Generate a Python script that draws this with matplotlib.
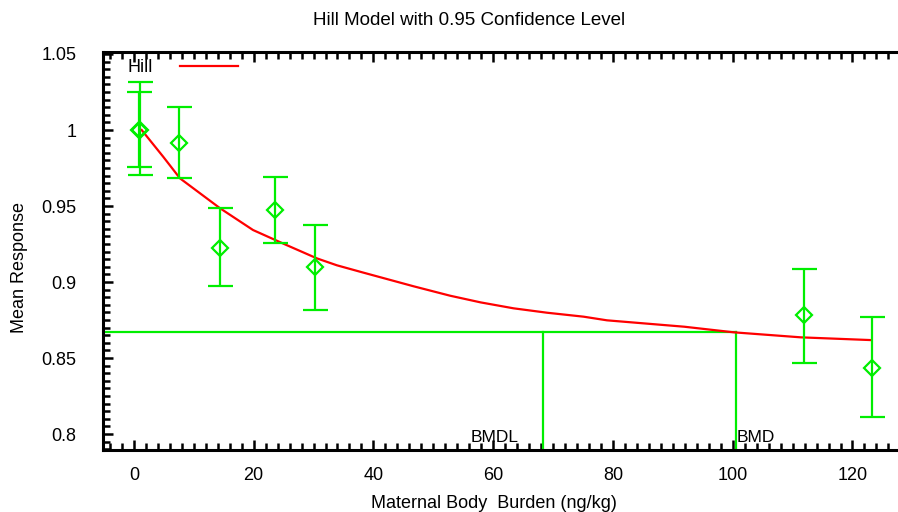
import matplotlib
matplotlib.use("Agg")
import matplotlib.pyplot as plt
from matplotlib.ticker import MultipleLocator, FuncFormatter
from matplotlib.lines import Line2D

plt.rcParams['font.family'] = ['Liberation Sans', 'DejaVu Sans']

# Observed data (dose, mean, lower, upper)
dose = [0.8, 1.0, 7.6, 14.3, 23.6, 30.3, 111.9, 123.2]
mean = [1.0, 1.0, 0.9917, 0.9226, 0.9474, 0.9101, 0.8783, 0.8436]
lower = [0.9757, 0.9707, 0.9682, 0.8974, 0.9254, 0.8816, 0.8465, 0.8114]
upper = [1.0247, 1.0313, 1.0153, 0.9485, 0.9693, 0.9375, 0.9086, 0.877]

# Hill model curve
curve_x = [1.3, 4.9, 7.7, 14.4, 19.9, 25.5, 30.6, 33.9, 38.3, 46.7, 52.8, 57.9,
           63.4, 69.0, 75.1, 79.0, 91.9, 100.2, 111.4, 123.1]
curve_y = [1.0, 0.9824, 0.9682, 0.9485, 0.9342, 0.9243, 0.9155, 0.9110, 0.9062,
           0.8972, 0.8910, 0.8866, 0.8827, 0.8798, 0.8772, 0.8748, 0.8706, 0.8669,
           0.8636, 0.8618]

bmr = 0.8669
bmdl = 68.3
bmd = 100.5

xlim = (-5.2, 127.6)
ylim = (0.7895, 1.0515)

green = '#00ee00'
red = '#ff0000'

fig = plt.figure(figsize=(8.98, 5.12), dpi=100)
ax = fig.add_axes([0.1144, 0.1211, 0.8856, 0.7779])

ax.plot(curve_x, curve_y, color=red, lw=1.6, zorder=3)

yerr = [[m - l for m, l in zip(mean, lower)], [u - m for u, m in zip(upper, mean)]]
ax.errorbar(dose, mean, yerr=yerr, fmt='D', color=green, mfc='none', mec=green,
            ms=8, mew=1.6, elinewidth=1.6, capsize=9, capthick=1.6, zorder=4)

ax.plot([xlim[0], bmd], [bmr, bmr], color=green, lw=1.6, zorder=2)
ax.plot([bmdl, bmdl], [ylim[0], bmr], color=green, lw=1.6, zorder=2)
ax.plot([bmd, bmd], [ylim[0], bmr], color=green, lw=1.6, zorder=2)
ax.text(bmdl - 4.0, ylim[0] + 0.003, 'BMDL', ha='right', va='bottom', fontsize=12.5)
ax.text(bmd + 0.2, ylim[0] + 0.003, 'BMD', ha='left', va='bottom', fontsize=12.5)

ax.set_xlim(*xlim)
ax.set_ylim(*ylim)

ax.xaxis.set_major_locator(MultipleLocator(20))
ax.xaxis.set_minor_locator(MultipleLocator(2))
ax.yaxis.set_major_locator(MultipleLocator(0.05))
ax.yaxis.set_minor_locator(MultipleLocator(0.005))
ax.yaxis.set_major_formatter(FuncFormatter(lambda v, p: ('%g' % round(v, 4))))

ax.tick_params(which='both', direction='in', top=True, right=False, width=1.8,
               labelsize=13)
ax.tick_params(which='major', length=7)
ax.tick_params(which='minor', length=5)
ax.tick_params(axis='x', pad=12)
ax.tick_params(axis='y', pad=19)

for s in ['left', 'bottom', 'top']:
    ax.spines[s].set_linewidth(2.2)
ax.spines['right'].set_visible(False)

ax.set_title('Hill Model with 0.95 Confidence Level', fontsize=13.5, pad=19, x=0.461)
ax.set_xlabel('Maternal Body  Burden (ng/kg)', fontsize=13)
ax.xaxis.set_label_coords(0.492, -0.113)
ax.set_ylabel('Mean Response', fontsize=13)
ax.yaxis.set_label_coords(-0.094, 0.457)

handle = Line2D([], [], color=red, lw=1.6)
leg = ax.legend([handle], ['Hill'], loc='upper left', frameon=False, markerfirst=False,
                fontsize=13, handlelength=3.2, handletextpad=1.5,
                bbox_to_anchor=(0.022, 1.0), borderaxespad=0)

fig.savefig('out.png', dpi=100)
